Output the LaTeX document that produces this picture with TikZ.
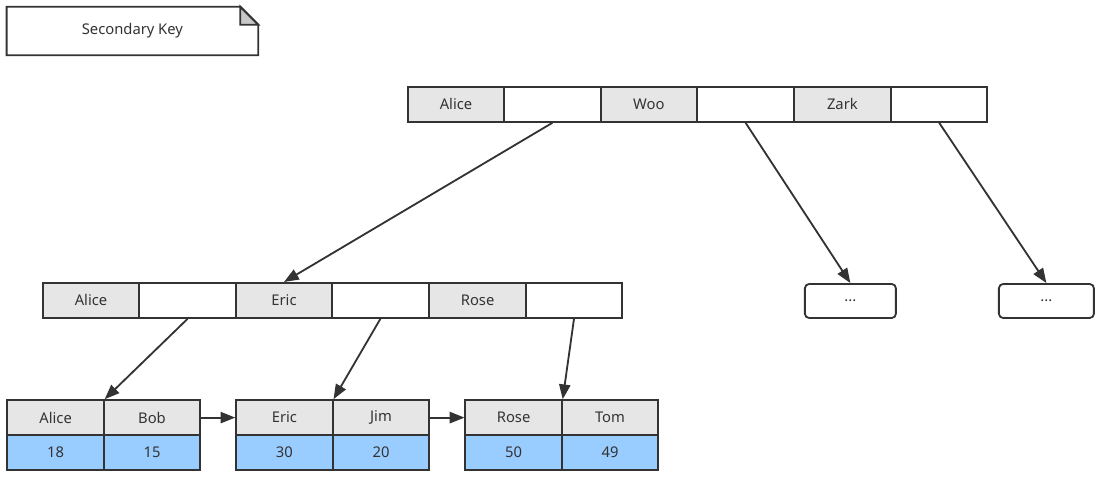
\documentclass[tikz,border=0pt]{standalone}
\usepackage{fontspec}
\setmainfont{Noto Sans}
\usepackage{tikz}
\usetikzlibrary{arrows.meta}
\definecolor{edge}{HTML}{333333}
\definecolor{keygray}{HTML}{E6E6E6}
\definecolor{valblue}{HTML}{99CCFF}

\begin{document}
\begin{tikzpicture}[
  font=\fontsize{10.5}{12}\selectfont, text=edge,
  cell/.style={draw=edge,line width=1.3pt,rectangle,minimum width=2.41cm,minimum height=0.875cm,inner sep=0pt},
  keycell/.style={cell,fill=keygray},
  ptrcell/.style={cell,fill=white},
  valcell/.style={cell,fill=valblue},
  morebox/.style={draw=edge,line width=1.3pt,rectangle,rounded corners=3pt,minimum height=0.85cm,inner sep=0pt},
  >={Triangle[length=10.5pt,width=8pt]},
  link/.style={draw=edge,line width=1.3pt,->}
]
\useasboundingbox (0,0) rectangle (27.7,-11.925);

% note
\node [minimum width=6.275cm,minimum height=1.2cm,inner sep=0pt] (note) at(3.31,-0.775){};
\draw [draw=edge,line width=1.3pt,fill=white] (note.north west) -- ([xshift=-0.45cm]note.north east) -- ([yshift=-0.45cm]note.north east) -- (note.south east) -- (note.south west) -- cycle;
\node at (note) {Secondary Key};
\draw [draw=edge,line width=1.3pt,fill=black!22] ([xshift=-0.45cm]note.north east) -- ([xshift=-0.45cm,yshift=-0.45cm]note.north east) -- ([yshift=-0.45cm]note.north east) -- cycle;

% root
\node [keycell] (t1) at(11.4,-2.61){Alice};
\node [ptrcell] (t2) at(13.81,-2.61){};
\node [keycell] (t3) at(16.22,-2.61){Woo};
\node [ptrcell] (t4) at(18.64,-2.61){};
\node [keycell] (t5) at(21.06,-2.61){Zark};
\node [ptrcell] (t6) at(23.48,-2.61){};

% inner level
\node [keycell] (m1) at(2.275,-7.51){Alice};
\node [ptrcell] (m2) at(4.69,-7.51){};
\node [keycell] (m3) at(7.1,-7.51){Eric};
\node [ptrcell] (m4) at(9.51,-7.51){};
\node [keycell] (m5) at(11.94,-7.51){Rose};
\node [ptrcell] (m6) at(14.35,-7.51){};
\node [morebox,minimum width=2.275cm] (more1) at(21.26,-7.525){...};
\node [morebox,minimum width=2.375cm] (more2) at(26.16,-7.525){...};

% leaves
\node [keycell] (b1) at(1.39,-10.44){Alice};
\node [keycell] (b2) at(3.8,-10.44){Bob};
\node [keycell] (b3) at(7.11,-10.44){Eric};
\node [keycell] (b4) at(9.525,-10.44){Jim};
\node [keycell] (b5) at(12.84,-10.44){Rose};
\node [keycell] (b6) at(15.25,-10.44){Tom};
\node [valcell] (v1) at(1.39,-11.31){18};
\node [valcell] (v2) at(3.8,-11.31){15};
\node [valcell] (v3) at(7.11,-11.31){30};
\node [valcell] (v4) at(9.525,-11.31){20};
\node [valcell] (v5) at(12.84,-11.31){50};
\node [valcell] (v6) at(15.25,-11.31){49};

\draw[link](t2.south) -- (m3.north);
\draw[link](t4.south) -- (more1.north);
\draw[link](t6.south) -- (more2.north);
\draw[link](m2.south) -- (b1.north east);
\draw[link](m4.south) -- (b3.north east);
\draw[link](m6.south) -- (b5.north east);
\draw[link](b2.east) -- (b3.west);
\draw[link](b4.east) -- (b5.west);

\end{tikzpicture}
\end{document}
